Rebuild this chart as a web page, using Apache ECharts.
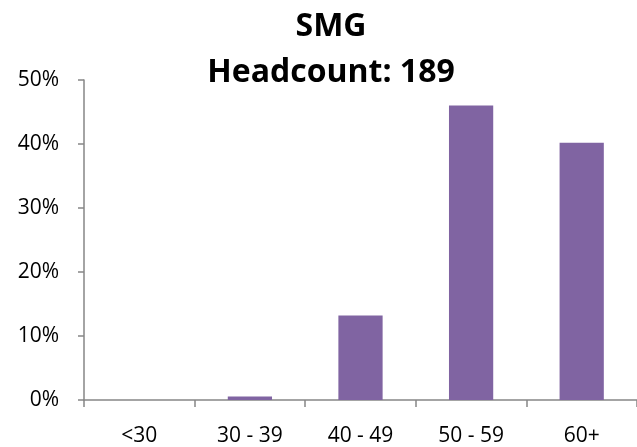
<!DOCTYPE html>
<html>
<head>
<meta charset="utf-8">
<script src="https://cdn.jsdelivr.net/npm/echarts@6/dist/echarts.min.js"></script>
<style>
  html, body { margin: 0; padding: 0; background: #fff; }
  #main { width: 637px; height: 447px; }
</style>
</head>
<body>
<div id="main"></div>
<script>
const ageGroups = ['<30', '30 - 39', '40 - 49', '50 - 59', '60+']
const shares = [0, 0.0053, 0.132, 0.460, 0.402]
const titleLines = ['SMG', 'Headcount: 189']

const myChart = echarts.init(document.getElementById('main'))
const axisColor = '#868686'
const option = {
  animation: false,
  textStyle: { fontFamily: 'Open Sans' },
  title: {
    text: titleLines.join('\n'),
    left: 331,
    top: 4,
    padding: 0,
    textAlign: 'center',
    textStyle: {
      fontFamily: 'Open Sans',
      fontWeight: 'bold',
      fontSize: 32,
      lineHeight: 46,
      color: '#000'
    }
  },
  grid: { left: 84, right: 0, top: 80, bottom: 47, containLabel: false },
  xAxis: {
    type: 'category',
    data: ageGroups,
    axisLine: { lineStyle: { color: axisColor, width: 1.5 } },
    axisTick: { show: true, length: 7, lineStyle: { color: axisColor, width: 1.5 } },
    axisLabel: { color: '#000', fontSize: 21, margin: 26 }
  },
  yAxis: {
    type: 'value',
    min: 0,
    max: 0.5,
    interval: 0.1,
    axisLine: { show: true, lineStyle: { color: axisColor, width: 1.5 } },
    axisTick: { show: true, length: 6, lineStyle: { color: axisColor, width: 1.5 } },
    splitLine: { show: false },
    axisLabel: {
      color: '#000',
      fontSize: 21,
      margin: 25,
      formatter: v => Math.round(v * 100) + '%'
    }
  },
  series: [{
    type: 'bar',
    data: shares,
    barWidth: '40%',
    itemStyle: { color: '#8064A2' }
  }]
}
myChart.setOption(option)
</script>
</body>
</html>
